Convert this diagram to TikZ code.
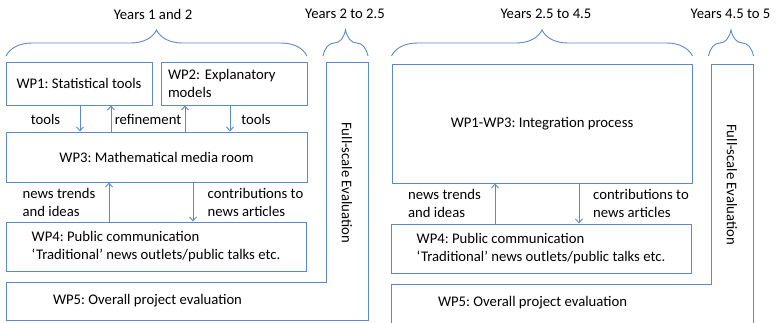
\documentclass[tikz,border=0pt]{standalone}
\usepackage{fontspec}
\setmainfont{Carlito}
\frenchspacing
\usetikzlibrary{arrows.meta,decorations.pathreplacing}
\definecolor{wpblue}{RGB}{91,137,204}
\tikzset{
  wpbox/.style={draw=wpblue,line width=0.9pt,inner sep=0pt,align=center},
  flow/.style={draw=wpblue,line width=0.9pt,-{Straight Barb[length=4pt,width=7pt]}},
  years/.style={draw=wpblue,line width=0.9pt,decorate,decoration={brace,amplitude=26pt}},
  lbl/.style={align=left,inner sep=0pt},
}
\begin{document}
\begin{tikzpicture}[x=1pt,y=-1pt,every node/.style={font=\fontsize{14.7}{18}\selectfont}]
  \useasboundingbox (0,0) rectangle (776,322);

  % first two and a half years
  \draw[years] (6,56) -- (307,56);
  \draw[years] (323,56) -- (368,56);
  \node (y12) at (153,14) {Years 1 and 2};
  \node (y225) at (345,14) {Years 2 to 2.5};

  \node[wpbox,minimum width=146pt,minimum height=43pt] (wp1) at (79,83.5) {WP1: Statistical tools};
  \node[wpbox,minimum width=146pt,minimum height=43pt,text width=132pt,align=left] (wp2) at (234,83.5) {WP2: Explanatory\\models};
  \node[wpbox,minimum width=301pt,minimum height=50pt] (wp3) at (156.5,157) {WP3: Mathematical media room};
  \node[wpbox,minimum width=300pt,minimum height=49pt,align=left] (wp4) at (156,246.5) {WP4: Public communication\\`Traditional' news outlets/public talks etc.};

  \draw[flow] (80,0 |- wp1.south) -- (80,0 |- wp3.north);
  \draw[flow] (111,0 |- wp3.north) -- (111,0 |- wp1.south);
  \draw[flow] (185,0 |- wp3.north) -- (185,0 |- wp2.south);
  \draw[flow] (230,0 |- wp2.south) -- (230,0 |- wp3.north);
  \draw[flow] (109,0 |- wp4.north) -- (109,0 |- wp3.south);
  \draw[flow] (193,0 |- wp3.south) -- (193,0 |- wp4.north);

  \node[lbl] (tools1) at (45.5,119) {tools};
  \node[lbl] (refine) at (148,119) {refinement};
  \node[lbl] (tools2) at (256,119) {tools};
  \node[lbl] (trends) at (59,202) {news trends\\and ideas};
  \node[lbl] (contrib) at (255.5,202) {contributions to\\news articles};

  % evaluation frame
  \draw[wpblue,line width=0.9pt] (326,62) -- (368,62) -- (368,320) -- (6,320) -- (6,282) -- (326,282) -- cycle;
  \node (wp5) at (147.5,301) {WP5: Overall project evaluation};
  \node[rotate=-90] (fse) at (347,182.5) {Full-scale Evaluation};

  % years 2.5 to 5
  \begin{scope}[xshift=385.5pt]
    \draw[years] (6,56) -- (307,56);
    \draw[years] (323,56) -- (368,56);
    \node (y2545) at (160.5,14) {Years 2.5 to 4.5};
    \node (y455) at (345,14) {Years 4.5 to 5};

    \node[wpbox,minimum width=300pt,minimum height=119pt] (wp13) at (156.5,123.5) {WP1-WP3: Integration process};
    \node[wpbox,minimum width=300pt,minimum height=49pt,align=left] (wp4b) at (155.5,248.5) {WP4: Public communication\\`Traditional' news outlets/public talks etc.};

    \draw[flow] (109.5,0 |- wp4b.north) -- (109.5,0 |- wp13.south);
    \draw[flow] (193.5,0 |- wp13.south) -- (193.5,0 |- wp4b.north);

    \node[lbl] (trendsb) at (59,203.5) {news trends\\and ideas};
    \node[lbl] (contribb) at (255.5,203.5) {contributions to\\news articles};

    \draw[wpblue,line width=0.9pt] (325.5,64) -- (367.5,64) -- (367.5,324) -- (5.5,324) -- (5.5,284) -- (325.5,284) -- cycle;
    \node (wp5b) at (147,303) {WP5: Overall project evaluation};
    \node[rotate=-90] (fseb) at (346.5,184.5) {Full-scale Evaluation};
  \end{scope}
\end{tikzpicture}
\end{document}
